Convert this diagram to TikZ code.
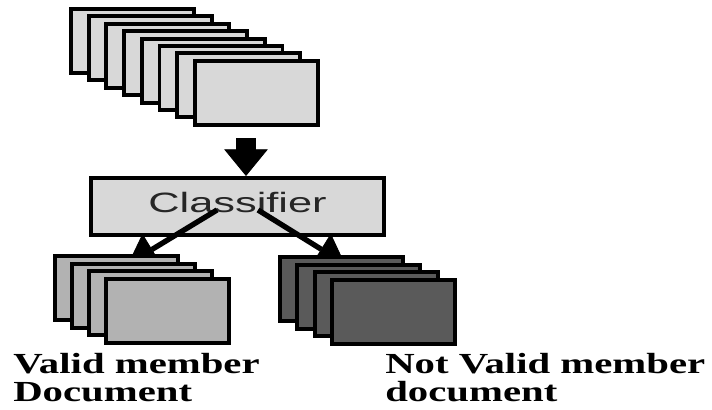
\documentclass[tikz,border=0pt]{standalone}
\usepackage{fontspec}
\usepackage{graphicx}
\usetikzlibrary{arrows.meta}
\definecolor{sheetLight}{HTML}{D8D8D8}
\definecolor{sheetMid}{HTML}{B2B2B2}
\definecolor{sheetDark}{HTML}{5A5A5A}
\newfontfamily\captionfont{Liberation Serif}
\newfontfamily\boxfont{Liberation Sans}
\newcommand{\stackcaption}[2]{\scalebox{1.4}[1]{\begin{tabular}[t]{@{}l@{}}#1\\#2\end{tabular}}}
\begin{document}
\begin{tikzpicture}[
  x=0.025cm, y=-0.025cm,
  sheetStyle/.style={draw=black, line width=2.8pt, inner sep=0pt, anchor=north west, minimum width=3.075cm, minimum height=1.6cm},
  captionStyle/.style={anchor=base west, inner sep=0pt, font=\captionfont\bfseries\fontsize{20.7}{20.3}\selectfont},
  thinArrow/.style={line width=3.8pt, -{Triangle[width=26pt, length=20pt, line width=0.6pt]}},
  thickArrow/.style={line width=14pt, -{Triangle[width=31pt, length=19pt, line width=0.6pt]}}]
\useasboundingbox (0,0) rectangle (712,409);

\foreach \i in {0,...,7}
  \node [sheetStyle, fill=sheetLight] (input\i) at (69+17.7*\i, 7+7.4*\i) {};

\node [draw=black, fill=sheetLight, line width=2.8pt, minimum width=7.325cm, minimum height=1.425cm, text height=0.475cm, text depth=0.2cm, font=\boxfont\fontsize{19.9}{24}\selectfont, text=black!85] (classifier) at (237.5,206.5) {\scalebox{1.55}[1]{Classifier}};

\coordinate (feed) at (246,138);
\coordinate (validStart) at (217,210);
\coordinate (notValidStart) at (258,210);
\coordinate (validTip) at (128,264);
\coordinate (notValidTip) at (345,264);

\draw [thickArrow] (feed) -- (feed |- classifier.north);
\draw [thinArrow] (validStart) -- (validTip);
\draw [thinArrow] (notValidStart) -- (notValidTip);

\foreach \i in {0,...,3}
  \node [sheetStyle, fill=sheetMid] (valid\i) at (53+17*\i, 254+7.7*\i) {};
\foreach \i in {0,...,3}
  \node [sheetStyle, fill=sheetDark] (notValid\i) at (278+17.3*\i, 255+7.7*\i) {};

\node [captionStyle] (validLabel) at (13,373) {\stackcaption{Valid member}{Document}};
\node [captionStyle] (notValidLabel) at (385,373) {\stackcaption{Not Valid member}{document}};
\end{tikzpicture}
\end{document}
